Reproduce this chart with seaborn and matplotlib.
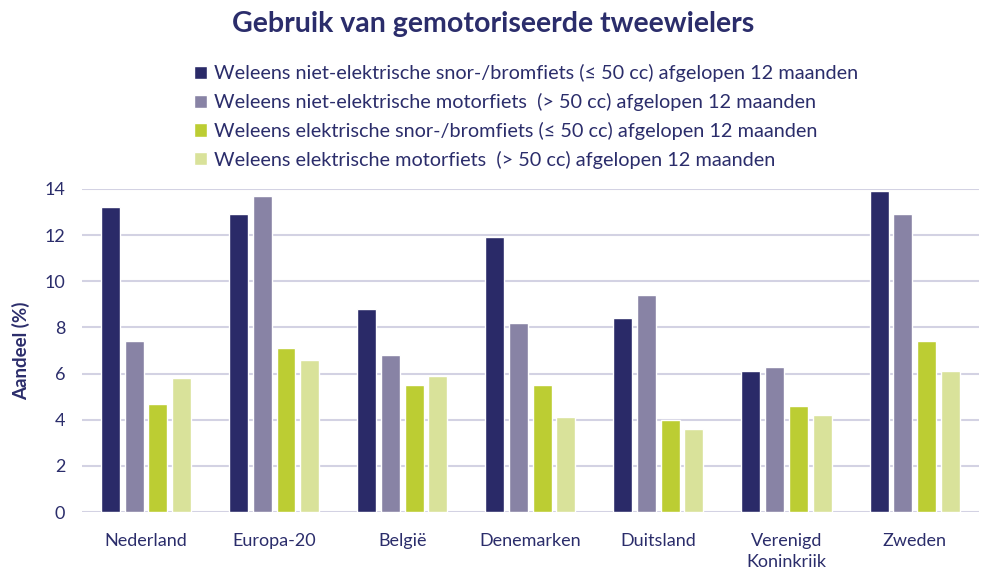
import numpy as np
import pandas as pd
import matplotlib
matplotlib.use("Agg")
import matplotlib.pyplot as plt
import seaborn as sns

# Data
landen = ["Nederland", "Europa-20", "België", "Denemarken", "Duitsland",
          "Verenigd\nKoninkriik", "Zweden"]
series = [
    "Weleens niet-elektrische snor-/bromfiets (≤ 50 cc) afgelopen 12 maanden",
    "Weleens niet-elektrische motorfiets  (> 50 cc) afgelopen 12 maanden",
    "Weleens elektrische snor-/bromfiets (≤ 50 cc) afgelopen 12 maanden",
    "Weleens elektrische motorfiets  (> 50 cc) afgelopen 12 maanden",
]
niet_elek_brom = [13.2, 12.9, 8.8, 11.9, 8.4, 6.1, 13.9]
niet_elek_motor = [7.4, 13.7, 6.8, 8.2, 9.4, 6.3, 12.9]
elek_brom = [4.7, 7.1, 5.5, 5.5, 4.0, 4.6, 7.4]
elek_motor = [5.8, 6.6, 5.9, 4.1, 3.6, 4.2, 6.1]
kleuren = ["#2a2a68", "#8883a5", "#bccd33", "#d9e29a"]
tekst = "#2b2d6b"

df = pd.DataFrame({
    "land": landen * 4,
    "reeks": np.repeat(series, len(landen)),
    "waarde": niet_elek_brom + niet_elek_motor + elek_brom + elek_motor,
})

sns.set_style("white")
plt.rcParams['font.family'] = ['Lato', 'DejaVu Sans']

fig = plt.figure(figsize=(9.81, 5.69), dpi=100)
ax = fig.add_axes([0.0836, 0.100, 0.914, 0.568])

sns.barplot(data=df, x="land", y="waarde", hue="reeks", palette=kleuren,
            saturation=1, width=0.74, gap=0.2, ax=ax, legend=True)

ax.set_ylim(0, 14)
ax.set_xlim(-0.5, 6.5)
ax.set_yticks(range(0, 15, 2))
ax.grid(axis="y", color="#d3d2e3", linewidth=1.5)
ax.set_axisbelow(True)
for s in ax.spines.values():
    s.set_visible(False)
ax.tick_params(axis="both", length=0, labelsize=13, labelcolor=tekst)
ax.tick_params(axis="x", pad=15)
ax.tick_params(axis="y", pad=12)
for t in ax.get_xticklabels():
    t.set_linespacing(1.4)
ax.set_xlabel("")
ax.set_ylabel("Aandeel (%)", fontsize=13.5, fontweight="bold", color=tekst, labelpad=10)

handles, labels = ax.get_legend_handles_labels()
ax.get_legend().remove()
leg = fig.legend(handles, labels, loc="upper left", bbox_to_anchor=(0.19, 0.901),
                 frameon=False, fontsize=14.3, handlelength=0.65, handleheight=0.65,
                 handletextpad=0.35, labelspacing=0.54, borderaxespad=0)
for t in leg.get_texts():
    t.set_color(tekst)

fig.text(0.503, 0.958, "Gebruik van gemotoriseerde tweewielers", ha="center", va="center",
         fontsize=20.5, fontweight="bold", color=tekst)

fig.savefig("out.png", dpi=100)
